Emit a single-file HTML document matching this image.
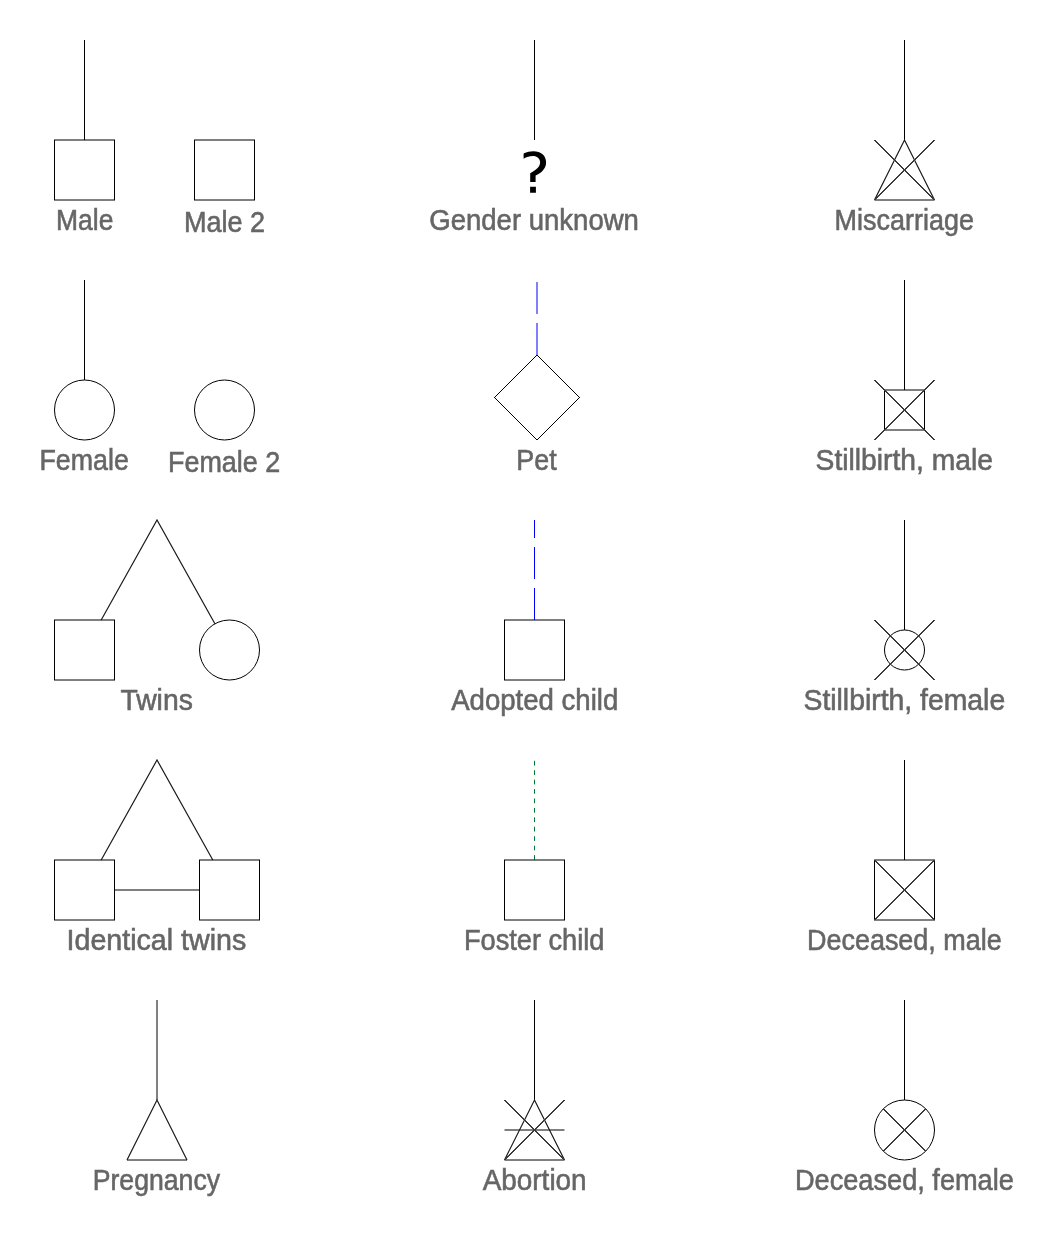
<!DOCTYPE html>
<html>
<head>
<meta charset="utf-8">
<style>
html,body{margin:0;padding:0;background:#fff;width:1062px;height:1239px;overflow:hidden;}
svg{display:block;will-change:transform;}
.s{fill:none;stroke:#000;stroke-width:1;}
.c{shape-rendering:crispEdges;stroke:#3a3a3a;}
.k{shape-rendering:crispEdges;}
.w{stroke-width:1.2px;stroke:#1a1a1a;}
.t{font-family:"Liberation Sans",sans-serif;font-size:29.4px;fill:#666;stroke:#666;stroke-width:0.6px;text-anchor:middle;}
</style>
</head>
<body>
<svg width="1062" height="1239" viewBox="0 0 1062 1239">
<rect x="0" y="0" width="1062" height="1239" fill="#fff"/>
<g class="s">
<!-- Row 1 -->
<line x1="84.5" y1="40" x2="84.5" y2="140"/>
<rect x="54.5" y="140" width="60" height="60"/>
<rect x="194.5" y="140" width="60" height="60"/>
<line x1="534.5" y1="40" x2="534.5" y2="140"/>
<line x1="904.5" y1="40" x2="904.5" y2="140"/>
<line x1="874.5" y1="200" x2="934.5" y2="200"/>
<path class="w" d="M874.5 200 L904.5 140 L934.5 200"/>
<path class="c" d="M874.5 140 L934.5 200 M934.5 140 L874.5 200"/>
<!-- Row 2 -->
<line x1="84.5" y1="280" x2="84.5" y2="380"/>
<circle cx="84.5" cy="410" r="30"/>
<circle cx="224.5" cy="410" r="30"/>
<line x1="537" y1="355" x2="537" y2="280" stroke="#00f" stroke-dasharray="32 9"/>
<path class="k" d="M537 355 L579.5 397.5 L537 440 L494.5 397.5 Z"/>
<line x1="904.5" y1="280" x2="904.5" y2="390"/>
<rect x="884.5" y="390" width="40" height="40"/>
<path class="c" d="M874.5 380 L934.5 440 M934.5 380 L874.5 440"/>
<!-- Row 3 -->
<path class="w" d="M101.2 620 L157 520 L214.9 623.8"/>
<rect x="54.5" y="620" width="60" height="60"/>
<circle cx="229.5" cy="650" r="30"/>
<line x1="534.5" y1="620" x2="534.5" y2="520" stroke="#00f" stroke-dasharray="32 9"/>
<rect x="504.5" y="620" width="60" height="60"/>
<line x1="904.5" y1="520" x2="904.5" y2="630"/>
<circle cx="904.5" cy="650" r="20"/>
<path class="c" d="M874.5 620 L934.5 680 M934.5 620 L874.5 680"/>
<!-- Row 4 -->
<path class="w" d="M101.2 860 L157 760 L212.8 860"/>
<rect x="54.5" y="860" width="60" height="60"/>
<rect x="199.5" y="860" width="60" height="60"/>
<line x1="114.5" y1="890" x2="199.5" y2="890"/>
<line x1="534.5" y1="760.8" x2="534.5" y2="860" stroke="#007a33" stroke-dasharray="4.7 4.73"/>
<rect x="504.5" y="860" width="60" height="60"/>
<line x1="904.5" y1="760" x2="904.5" y2="860"/>
<rect x="874.5" y="860" width="60" height="60"/>
<path class="c" d="M874.5 860 L934.5 920 M934.5 860 L874.5 920"/>
<!-- Row 5 -->
<line x1="157" y1="1000" x2="157" y2="1100"/>
<line x1="127" y1="1160" x2="187" y2="1160"/>
<path class="w" d="M127 1160 L157 1100 L187 1160"/>
<line x1="534.5" y1="1000" x2="534.5" y2="1100"/>
<line x1="504.5" y1="1160" x2="564.5" y2="1160"/>
<line x1="504.5" y1="1130" x2="564.5" y2="1130"/>
<path class="w" d="M504.5 1160 L534.5 1100 L564.5 1160"/>
<path class="c" d="M504.5 1100 L564.5 1160 M564.5 1100 L504.5 1160"/>
<line x1="904.5" y1="1000" x2="904.5" y2="1100"/>
<circle cx="904.5" cy="1130" r="30"/>
<path class="c" d="M883.3 1108.8 L925.7 1151.2 M925.7 1108.8 L883.3 1151.2"/>
</g>
<g class="t">
<text x="84.70" y="230" textLength="57.34" lengthAdjust="spacingAndGlyphs">Male</text>
<text x="224.46" y="232" textLength="81.12" lengthAdjust="spacingAndGlyphs">Male 2</text>
<text x="534.10" y="230" textLength="209.67" lengthAdjust="spacingAndGlyphs">Gender unknown</text>
<text x="904.26" y="230" textLength="139.31" lengthAdjust="spacingAndGlyphs">Miscarriage</text>
<text x="84.18" y="470" textLength="89.30" lengthAdjust="spacingAndGlyphs">Female</text>
<text x="224.13" y="472" textLength="112.24" lengthAdjust="spacingAndGlyphs">Female 2</text>
<text x="536.49" y="470" textLength="40.28" lengthAdjust="spacingAndGlyphs">Pet</text>
<text x="904.29" y="470" textLength="177.45" lengthAdjust="spacingAndGlyphs">Stillbirth, male</text>
<text x="156.63" y="710" textLength="72.34" lengthAdjust="spacingAndGlyphs">Twins</text>
<text x="534.72" y="710" textLength="167.08" lengthAdjust="spacingAndGlyphs">Adopted child</text>
<text x="904.34" y="710" textLength="201.69" lengthAdjust="spacingAndGlyphs">Stillbirth, female</text>
<text x="156.41" y="950" textLength="179.76" lengthAdjust="spacingAndGlyphs">Identical twins</text>
<text x="534.18" y="950" textLength="140.57" lengthAdjust="spacingAndGlyphs">Foster child</text>
<text x="904.38" y="950" textLength="194.77" lengthAdjust="spacingAndGlyphs">Deceased, male</text>
<text x="156.37" y="1190" textLength="127.33" lengthAdjust="spacingAndGlyphs">Pregnancy</text>
<text x="534.66" y="1190" textLength="103.95" lengthAdjust="spacingAndGlyphs">Abortion</text>
<text x="904.40" y="1190" textLength="218.89" lengthAdjust="spacingAndGlyphs">Deceased, female</text></g>
<path fill="#000" d="M523.6 153.4 C527 152 530 151.2 533.3 151.2 C541 151.2 546.1 155.5 546.1 162.4 C546.1 168.5 541.5 172.8 535.6 175.6 L535.6 181.9 L530.2 181.9 L530.2 173.3 C536 170 540.1 167 540.1 162.6 C540.1 158.5 537 156.1 532.8 156.1 C529.5 156.1 526.5 157.2 523.6 158.8 Z M530.1 186.7 L535.9 186.7 L535.9 192.8 L530.1 192.8 Z"/>
</svg>
</body>
</html>
